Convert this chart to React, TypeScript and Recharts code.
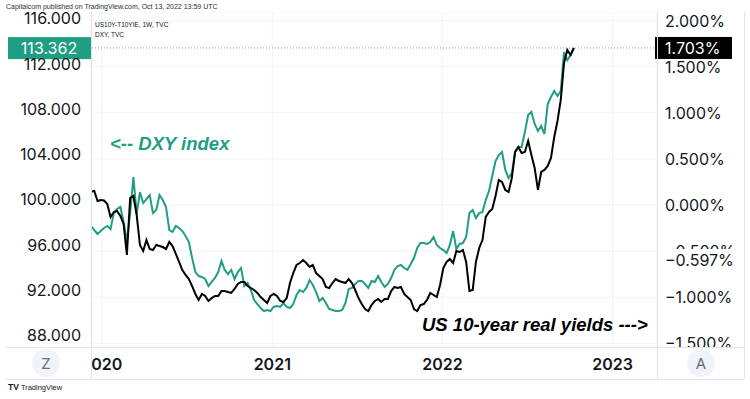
import { LineChart, Line, XAxis, YAxis, CartesianGrid, ReferenceLine } from "recharts";

// weekly bars, first one is the week of 9 Dec 2019
const weekStart = Date.UTC(2019, 11, 9);
const WEEK = 7 * 24 * 3600 * 1000;

const dxy = [
  97.66, 97.28, 96.93, 97.19, 97.46, 97.64, 97.37, 98.78, 99.14, 99.32,
  97.99, 96.22, 98.8, 101.97, 98.7, 100.64, 99.67, 100.02, 100.38, 98.78,
  99.05, 100.38, 99.93, 99.32, 97.28, 97.11, 97.64, 97.46, 97.19, 96.75,
  96.22, 94.81, 93.57, 93.21, 93.13, 92.95, 92.33, 92.69, 93.04, 93.57,
  94.54, 93.75, 93.39, 93.75, 92.95, 93.57, 93.92, 92.33, 92.6, 91.98,
  91.09, 90.74, 90.39, 90.12, 90.21, 90.12, 90.48, 90.56, 90.48, 90.83,
  90.48, 90.39, 90.74, 91.54, 91.98, 91.8, 92.16, 92.86, 92.42, 91.8,
  91.01, 91.27, 90.83, 90.3, 90.21, 90.12, 90.12, 90.21, 90.83, 92.07,
  92.16, 92.51, 92.77, 92.77, 92.51, 92.16, 92.77, 92.69, 93.21, 92.69,
  92.24, 92.51, 93.04, 93.75, 94.1, 94.19, 93.92, 93.75, 94.28, 94.81,
  95.69, 96.13, 96.13, 96.05, 96.22, 96.66, 95.96, 95.69, 95.51, 95.25,
  95.96, 97.19, 95.6, 96.05, 96.13, 96.66, 98.78, 99.05, 98.34, 98.78,
  98.87, 99.93, 100.73, 102.06, 103.38, 103.91, 104.18, 102.59, 101.88, 102.32,
  104.18, 104.62, 104.62, 105.95, 107.45, 107.72, 106.66, 106.04, 106.48, 105.77,
  108.42, 109.04, 109.57, 109.13, 109.57, 113.02, 112.31, 112.76, 113.362,
];

// US10Y - T10YIE, in %
const realYield = [
  0.144, 0.152, 0.043, 0.054, 0.049, 0.011, -0.13, -0.076, -0.065, -0.119,
  -0.206, -0.542, 0.076, 0.098, -0.108, -0.434, -0.499, -0.38, -0.477, -0.488,
  -0.434, -0.445, -0.456, -0.477, -0.401, -0.445, -0.531, -0.618, -0.705, -0.759,
  -0.803, -0.879, -0.965, -1.03, -0.965, -0.987, -1.041, -1.009, -0.987, -0.987,
  -0.933, -0.933, -0.944, -0.954, -0.911, -0.857, -0.835, -0.835, -0.879, -0.9,
  -0.922, -0.954, -0.998, -1.03, -1.063, -0.987, -0.965, -0.987, -1.041, -1.052,
  -1.009, -0.846, -0.738, -0.651, -0.629, -0.597, -0.629, -0.672, -0.651, -0.738,
  -0.77, -0.803, -0.889, -0.9, -0.846, -0.803, -0.824, -0.835, -0.846, -0.803,
  -0.846, -0.922, -1.009, -1.074, -1.128, -1.15, -1.085, -1.041, -1.02, -1.052,
  -1.02, -1.02, -0.933, -0.889, -0.9, -0.889, -0.965, -0.998, -1.03, -1.128,
  -1.15, -1.085, -1.074, -1.03, -0.954, -0.976, -0.998, -0.868, -0.683, -0.618,
  -0.586, -0.629, -0.499, -0.51, -0.488, -0.618, -0.933, -0.922, -0.618, -0.466,
  -0.38, -0.13, -0.076, -0.043, 0.098, 0.271, 0.249, 0.163, 0.141, 0.293,
  0.575, 0.629, 0.564, 0.575, 0.694, 0.542, 0.401, 0.163, 0.358, 0.38,
  0.423, 0.51, 0.738, 0.911, 1.139, 1.54, 1.681, 1.627, 1.703,
];

const yearTicks = ["2020", "2021", "2022", "2023"];
const leftTicks = [88, 92, 96, 100, 104, 108, 112, 116];
const rightTicks = [-1.5, -1, -0.5, 0, 0.5, 1, 1.5, 2];

const lastDxy = 113.362;
const lastYield = 1.703;
const markYield = -0.597;

const data = dxy.map((v, i) => ({ t: weekStart + i * WEEK, dxy: v, ry: realYield[i] }));
const xTicks = yearTicks.map((y) => Date.UTC(Number(y), 0, 1));

const GREEN = "#1f9e84";
const TEXT = "#131722";
const BORDER = "#e0e3eb";
const FONT = "Inter, 'Liberation Sans', sans-serif";
const SANS = "'Liberation Sans', sans-serif";

const fmtPct = (v: number) => (v < 0 ? "\u2212" : "") + Math.abs(v).toFixed(3) + "%";

const LeftTick = ({ y, payload }: any) => (
  <text x={81} y={y} textAnchor="end" dominantBaseline="central" fontFamily={FONT} fontSize={16} fill={TEXT}>
    {payload.value.toFixed(3)}
  </text>
);

const RightTick = ({ y, payload }: any) => (
  <text x={665} y={y} textAnchor="start" dominantBaseline="central" fontFamily={FONT} fontSize={16} fill={TEXT}>
    {fmtPct(payload.value)}
  </text>
);

const YearTick = ({ x, payload }: any) => (
  <text x={x} y={364} textAnchor="middle" dominantBaseline="central" fontFamily={FONT} fontSize={16} fontWeight={600} fill={TEXT}>
    {new Date(payload.value).getUTCFullYear()}
  </text>
);

const LeftBadge = ({ viewBox }: any) => (
  <g>
    <rect x={viewBox.x - 83} y={viewBox.y - 11} width={83} height={22} fill={GREEN} />
    <text x={viewBox.x - 42} y={viewBox.y} textAnchor="middle" dominantBaseline="central" fontFamily={FONT} fontSize={16} fill="#fff">
      {lastDxy.toFixed(3)}
    </text>
  </g>
);

const RightBadge = ({ viewBox }: any) => (
  <g>
    <rect x={viewBox.x + viewBox.width - 2} y={viewBox.y - 11} width={77} height={22} fill="#000" />
    <text x={viewBox.x + viewBox.width + 8} y={viewBox.y} dominantBaseline="central" fontFamily={FONT} fontSize={16} fill="#fff">
      {fmtPct(lastYield)}
    </text>
  </g>
);

const circle = (left: number, letter: string) => (
  <div
    style={{
      position: "absolute", left: left - 14, top: 349, width: 28, height: 28, borderRadius: 14,
      background: "#f0f3fa", color: "#6a6d78", fontFamily: FONT, fontSize: 15,
      display: "flex", alignItems: "center", justifyContent: "center",
    }}
  >
    {letter}
  </div>
);

export default function App() {
  return (
    <div style={{ position: "absolute", left: 0, top: 0, width: 750, height: 399, background: "#fff", overflow: "hidden" }}>
      <LineChart width={750} height={399} data={data} margin={{ top: 12, right: 0, bottom: 0, left: 0 }}>
        <CartesianGrid yAxisId="right" stroke="#f0f3fa" strokeWidth={1} />
        <XAxis
          dataKey="t"
          type="number"
          domain={[weekStart, weekStart + 173.5 * WEEK]}
          ticks={xTicks}
          interval={0}
          allowDataOverflow
          height={52}
          axisLine={false}
          tickLine={false}
          tick={<YearTick />}
        />
        <YAxis
          yAxisId="left"
          orientation="left"
          width={91}
          domain={[86.94, 116.557]}
          ticks={leftTicks}
          interval={0}
          allowDataOverflow
          axisLine={false}
          tickLine={false}
          tick={<LeftTick />}
        />
        <YAxis
          yAxisId="right"
          orientation="right"
          width={93}
          domain={[-1.54, 2.093]}
          ticks={rightTicks}
          interval={0}
          allowDataOverflow
          axisLine={false}
          tickLine={false}
          tick={<RightTick />}
        />
        <ReferenceLine yAxisId="right" y={lastYield} stroke="#9598a1" strokeDasharray="1 2" label={<RightBadge />} />
        <ReferenceLine yAxisId="left" y={lastDxy} stroke="none" label={<LeftBadge />} />
        <Line yAxisId="left" dataKey="dxy" type="linear" stroke={GREEN} strokeWidth={2} dot={false} isAnimationActive={false} />
        <Line yAxisId="right" dataKey="ry" type="linear" stroke="#000" strokeWidth={2} dot={false} isAnimationActive={false} />
      </LineChart>

      {/* price-scale label for -0.597%, sits on top of the -0.500% tick */}
      <div
        style={{
          position: "absolute", left: 659, top: 249, width: 85, height: 22, background: "#fff",
          fontFamily: FONT, fontSize: 16, lineHeight: "22px", color: TEXT, paddingLeft: 6, boxSizing: "border-box",
        }}
      >
        {fmtPct(markYield)}
      </div>

      {/* pane borders */}
      <div style={{ position: "absolute", left: 91, top: 12, width: 1, height: 367, background: BORDER }} />
      <div style={{ position: "absolute", left: 657, top: 12, width: 1, height: 367, background: BORDER }} />
      <div style={{ position: "absolute", left: 5, top: 347, width: 739, height: 1, background: BORDER }} />
      <div style={{ position: "absolute", left: 5, top: 379, width: 739, height: 1, background: BORDER }} />
      <div style={{ position: "absolute", left: 744, top: 12, width: 1, height: 367, background: BORDER }} />

      {/* time-axis side boxes */}
      <div style={{ position: "absolute", left: 0, top: 348, width: 91, height: 31, background: "#fff" }} />
      <div style={{ position: "absolute", left: 658, top: 348, width: 86, height: 31, background: "#fff" }} />
      {circle(46, "Z")}
      {circle(701, "A")}

      {/* header */}
      <div style={{ position: "absolute", left: 0, top: 0, width: 750, height: 12, background: "#fff" }} />
      <div style={{ position: "absolute", left: 6, top: 3, fontFamily: SANS, fontSize: 7, color: "#2a2e39", whiteSpace: "nowrap" }}>
        Capitalcom published on TradingView.com, Oct 13, 2022 13:59 UTC
      </div>
      <div style={{ position: "absolute", left: 95, top: 20, fontFamily: SANS, fontSize: 6.5, lineHeight: "9.5px", color: TEXT, whiteSpace: "nowrap" }}>
        <div>US10Y-T10YIE, 1W, TVC</div>
        <div>DXY, TVC</div>
      </div>

      {/* annotations */}
      <div style={{ position: "absolute", left: 110, top: 133, fontFamily: SANS, fontSize: 18.5, fontWeight: 700, fontStyle: "italic", color: GREEN, whiteSpace: "nowrap" }}>
        {"<-- DXY index"}
      </div>
      <div style={{ position: "absolute", left: 422, top: 314, fontFamily: SANS, fontSize: 18.5, fontWeight: 700, fontStyle: "italic", color: "#000", whiteSpace: "nowrap" }}>
        {"US 10-year real yields --->"}
      </div>

      {/* footer logo */}
      <div style={{ position: "absolute", left: 8, top: 382, fontFamily: SANS, fontSize: 7.5, color: TEXT, whiteSpace: "nowrap" }}>
        <span style={{ fontWeight: 900, fontSize: 8.5, marginRight: 2 }}>TV</span>TradingView
      </div>
    </div>
  );
}
